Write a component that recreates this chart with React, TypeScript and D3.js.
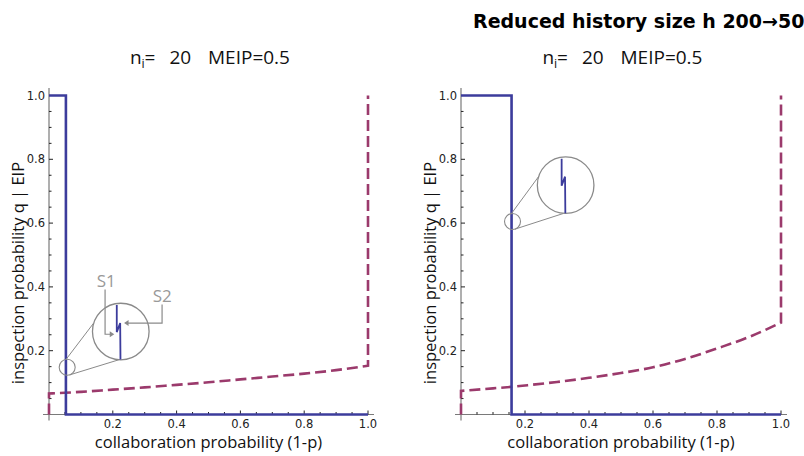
import React from "react";
import * as d3 from "d3";

// ---------- data ----------
const leftThreshold = 0.053; // blue step location, left panel
const rightThreshold = 0.158; // blue step location, right panel

const leftCurveX = [0, 0.05, 0.1, 0.2, 0.3, 0.4, 0.5, 0.6, 0.7, 0.8, 0.9, 1.0];
const leftCurveY = [0.066, 0.068, 0.071, 0.078, 0.085, 0.093, 0.101, 0.11, 0.119, 0.128, 0.139, 0.153];

const rightCurveX = [0, 0.1, 0.16, 0.2, 0.3, 0.4, 0.5, 0.6, 0.7, 0.8, 0.9, 1.0];
const rightCurveY = [0.074, 0.082, 0.087, 0.091, 0.102, 0.115, 0.13, 0.148, 0.174, 0.207, 0.243, 0.288];

const majorTicks = [0.2, 0.4, 0.6, 0.8, 1.0];
const tickLabels = ["0.2", "0.4", "0.6", "0.8", "1.0"];
const minorTicks = d3.range(1, 20).map((i) => i * 0.05).filter((v) => Math.abs(v * 5 - Math.round(v * 5)) > 1e-6);

const titleParts = ["n", "i", "=", "20", "MEIP=0.5"];
const mainTitle = "Reduced history size h 200\u219250";
const xLabel = "collaboration probability (1-p)";
const yLabel = "inspection probability q | EIP";

// magnifier annotation anchors (data coords)
const leftZoomSmall = [0.057, 0.148];
const leftZoomBig = [0.225, 0.26];
const rightZoomSmall = [0.161, 0.605];
const rightZoomBig = [0.327, 0.719];

const BLUE = "#3c3c9c";
const PURPLE = "#9b3a6c";
const AXIS = "#7a7a7a";
const ANN = "#8a8a8a";

type PanelProps = {
  x0: number;
  x1: number;
  threshold: number;
  cx: number[];
  cy: number[];
  zSmall: number[];
  zBig: number[];
  showS: boolean;
};

function Panel({ x0, x1, threshold, cx, cy, zSmall, zBig, showS }: PanelProps) {
  const xs = d3.scaleLinear().domain([0, 1]).range([x0, x1]);
  const ys = d3.scaleLinear().domain([0, 1]).range([414.5, 95.5]);
  const line = d3
    .line<[number, number]>()
    .x((d) => xs(d[0]))
    .y((d) => ys(d[1]));
  const curveLine = d3
    .line<[number, number]>()
    .x((d) => xs(d[0]))
    .y((d) => ys(d[1]))
    .curve(d3.curveMonotoneX);

  const bluePts: [number, number][] = [
    [0, 1],
    [threshold, 1],
    [threshold, 0],
    [1, 0],
  ];
  const curvePts: [number, number][] = cx.map((x, i) => [x, cy[i]]);
  const dashedD =
    line([[0, 0], [0, cy[0]]])! +
    curveLine(curvePts)!.replace(/^M/, "L") +
    "L" + xs(1) + "," + ys(1);

  const sx = xs(zSmall[0]);
  const sy = ys(zSmall[1]);
  const bx = xs(zBig[0]);
  const by = ys(zBig[1]);
  const rs = 8;
  const rb = 28.3;
  const pt = (cxp: number, cyp: number, r: number, deg: number) => [
    cxp + r * Math.cos((deg * Math.PI) / 180),
    cyp + r * Math.sin((deg * Math.PI) / 180),
  ];
  const su = pt(sx, sy, rs, -98);
  const sl = pt(sx, sy, rs, 72);
  const bu = pt(bx, by, rb, 198);
  const bl = pt(bx, by, rb, 94);
  const zig = `M${bx - 4},${by - 26.5}L${bx - 4},${by + 0.5}L${bx - 0.6},${by - 8.5}L${bx - 0.3},${by + 28}`;

  const mid = (x0 + x1) / 2;
  const tf = "Open Sans";

  return (
    <g>
      {/* axes */}
      <line x1={x0 - 6} x2={x1 + 6} y1={ys(0)} y2={ys(0)} stroke={AXIS} strokeWidth={1.2} />
      <line x1={x0} x2={x0} y1={88} y2={ys(0) + 6} stroke={AXIS} strokeWidth={1.2} />
      {majorTicks.map((t, i) => (
        <g key={"mx" + i}>
          <line x1={xs(t)} x2={xs(t)} y1={ys(0)} y2={ys(0) - 4} stroke="#222" strokeWidth={1} />
          <text x={xs(t)} y={428} textAnchor="middle" fontSize={11.5} fontFamily="DejaVu Sans" fill="#222">
            {tickLabels[i]}
          </text>
          <line x1={x0} x2={x0 + 4} y1={ys(t)} y2={ys(t)} stroke="#222" strokeWidth={1} />
          <text x={x0 - 4} y={ys(t) + 4} textAnchor="end" fontSize={11.5} fontFamily="DejaVu Sans" fill="#222">
            {tickLabels[i]}
          </text>
        </g>
      ))}
      {minorTicks.map((t, i) => (
        <g key={"mn" + i}>
          <line x1={xs(t)} x2={xs(t)} y1={ys(0)} y2={ys(0) - 2.5} stroke="#222" strokeWidth={1} />
          <line x1={x0} x2={x0 + 2.5} y1={ys(t)} y2={ys(t)} stroke="#222" strokeWidth={1} />
        </g>
      ))}

      {/* series */}
      <path d={dashedD} fill="none" stroke={PURPLE} strokeWidth={2.6} strokeDasharray="11,5" />
      <path d={line(bluePts)!} fill="none" stroke={BLUE} strokeWidth={2.6} />

      {/* magnifier */}
      <circle cx={sx} cy={sy} r={rs} fill="none" stroke={ANN} strokeWidth={1.1} />
      <line x1={su[0]} y1={su[1]} x2={bu[0]} y2={bu[1]} stroke={ANN} strokeWidth={1} />
      <line x1={sl[0]} y1={sl[1]} x2={bl[0]} y2={bl[1]} stroke={ANN} strokeWidth={1} />
      <circle cx={bx} cy={by} r={rb} fill="white" stroke={ANN} strokeWidth={1.3} />
      <path d={zig} fill="none" stroke={BLUE} strokeWidth={1.8} />

      {showS && (
        <g>
          <text x={bx - 24} y={by - 44.5} fontSize={17} fontFamily={tf} fill="#999">
            S1
          </text>
          <path d={`M${bx - 15.7},${by - 42}V${by + 2.7}H${bx - 10}`} fill="none" stroke={ANN} strokeWidth={1.2} />
          <path d={`M${bx - 6.5},${by + 2.7}l-4.5,-3v6z`} fill={ANN} />
          <text x={bx + 32} y={by - 29.5} fontSize={17} fontFamily={tf} fill="#999">
            S2
          </text>
          <path d={`M${bx + 41.3},${by - 27}V${by - 8.5}H${bx + 7}`} fill="none" stroke={ANN} strokeWidth={1.2} />
          <path d={`M${bx + 3.3},${by - 8.5}l4.5,-3v6z`} fill={ANN} />
        </g>
      )}

      {/* titles & labels */}
      <g fontFamily={tf} fill="#111" fontSize={19}>
        <text x={mid - 78.5} y={64}>{titleParts[0]}</text>
        <text x={mid - 67} y={68} fontSize={12.5}>{titleParts[1]}</text>
        <text x={mid - 64} y={64}>{titleParts[2]}</text>
        <text x={mid - 39} y={64}>{titleParts[3]}</text>
        <text x={mid - 0.5} y={64}>{titleParts[4]}</text>
      </g>
      <text x={mid} y={448} textAnchor="middle" fontSize={16.5} fontFamily={tf} fill="#111">
        {xLabel}
      </text>
      <text
        transform={`translate(${x0 - 25},${273}) rotate(-90)`}
        textAnchor="middle"
        fontSize={16.5}
        fontFamily={tf}
        fill="#111"
      >
        {yLabel}
      </text>
    </g>
  );
}

export default function App() {
  return (
    <svg
      width={804}
      height={456}
      style={{ position: "fixed", left: 0, top: 0, background: "white" }}
    >
      <rect width={804} height={456} fill="white" />
      <Panel x0={49} x1={368} threshold={leftThreshold} cx={leftCurveX} cy={leftCurveY} zSmall={leftZoomSmall} zBig={leftZoomBig} showS={true} />
      <Panel x0={461} x1={781} threshold={rightThreshold} cx={rightCurveX} cy={rightCurveY} zSmall={rightZoomSmall} zBig={rightZoomBig} showS={false} />
      <text x={473} y={27.5} fontSize={19} fontWeight="bold" fontFamily="DejaVu Sans" fill="#000">
        {mainTitle}
      </text>
    </svg>
  );
}
